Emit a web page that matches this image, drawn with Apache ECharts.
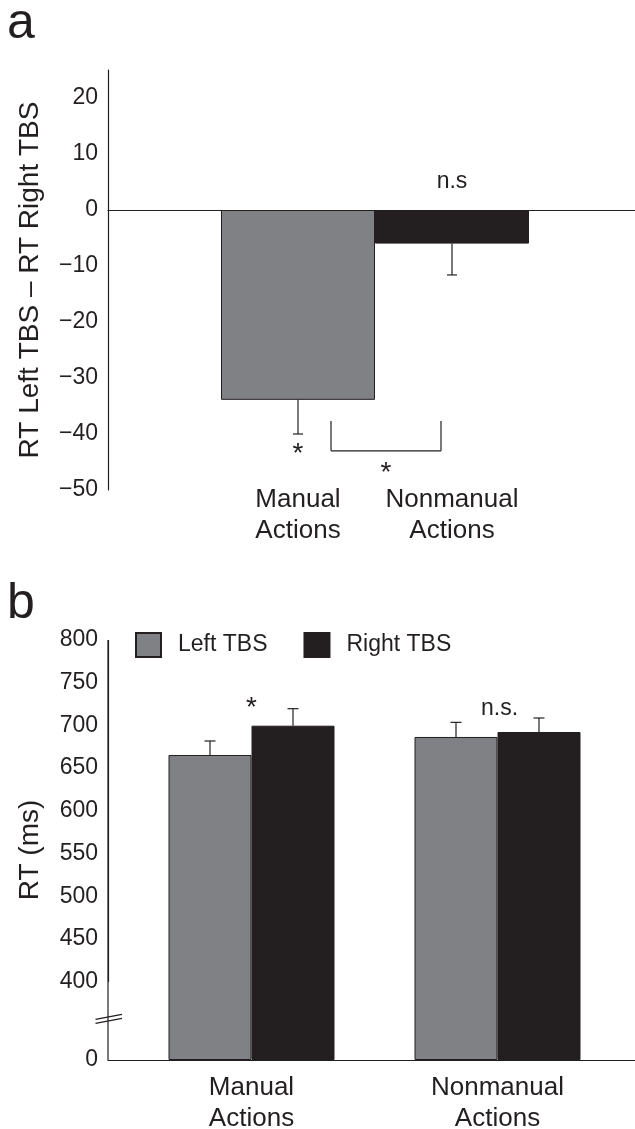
<!DOCTYPE html>
<html><head><meta charset="utf-8">
<script src="https://cdn.jsdelivr.net/npm/echarts@6/dist/echarts.min.js"></script>
<style>html,body{margin:0;padding:0;background:#fff}#c{width:635px;height:1129px}</style>
</head><body><div id="c"></div>
<script>
// ---------- data ----------
const categories = ['Manual\nActions', 'Nonmanual\nActions'];
// Panel a: RT Left TBS − RT Right TBS
const diffValues = [-33.9, -6.0];
const diffErrors = [6.1, 5.6];
// Panel b: RT (ms)
const seriesNames = ['Left TBS', 'Right TBS'];
const leftTBS = [665.4, 686.5];
const leftTBSErr = [16.4, 17.1];
const rightTBS = [699.7, 692.3];
const rightTBSErr = [19.9, 16.4];

// ---------- style ----------
const INK = '#231f20';
const GRAY = '#808184';
const FONT = '"Liberation Sans", Arial, Helvetica, sans-serif';
const BAR_W = 83;

const chart = echarts.init(document.getElementById('c'), null, {renderer: 'canvas'});

function errRender(capHalf, barW) {
  return function (params, api) {
    const i = api.value(0), v = api.value(1), e = api.value(2), side = api.value(3);
    const p0 = api.coord([i, v]);
    const p1 = api.coord([i, v + e]);
    const x = p0[0] + side * barW / 2;
    const st = {stroke: INK, lineWidth: 1.2};
    return {
      type: 'group',
      children: [
        {type: 'line', shape: {x1: x, y1: p0[1], x2: x, y2: p1[1]}, style: st},
        {type: 'line', shape: {x1: x - capHalf, y1: p1[1], x2: x + capHalf, y2: p1[1]}, style: st}
      ]
    };
  };
}

const breaksB = [{start: 0, end: 400, gap: 91.6}];
const breakAreaOff = {show: false, itemStyle: {color: 'rgba(0,0,0,0)', borderWidth: 0, opacity: 0}};

const option = {
  backgroundColor: '#fff',
  animation: false,
  textStyle: {fontFamily: FONT, color: INK},
  title: [
    {text: 'a', left: 7, top: -1, padding: 0, textStyle: {fontSize: 50, fontWeight: 'normal', color: INK, fontFamily: FONT}},
    {text: 'b', left: 7, top: 579, padding: 0, textStyle: {fontSize: 50, fontWeight: 'normal', color: INK, fontFamily: FONT}}
  ],
  legend: {
    data: seriesNames,
    left: 135, top: 632, padding: 0,
    itemWidth: 25, itemHeight: 24, itemGap: 36,
    icon: 'rect',
    textStyle: {fontSize: 23, color: INK, fontFamily: FONT, padding: [0, 0, 0, 12]}
  },
  grid: [
    {left: 108, right: 0, top: 70, height: 420, outerBoundsMode: 'none'},
    {left: 221, width: 308, top: 70, height: 420, outerBoundsMode: 'none'},
    {left: 108, right: 0, top: 640, height: 420, outerBoundsMode: 'none'},
    {left: 128.5, width: 492, top: 640, height: 420, outerBoundsMode: 'none'}
  ],
  xAxis: [
    {gridIndex: 0, type: 'value', min: 0, max: 1,
     axisLine: {show: true, onZero: true, lineStyle: {color: INK, width: 1.2}},
     axisTick: {show: false}, axisLabel: {show: false}, splitLine: {show: false}},
    {gridIndex: 1, type: 'category', data: categories, position: 'bottom',
     axisLine: {show: false, onZero: false}, axisTick: {show: false}, splitLine: {show: false},
     axisLabel: {fontSize: 26, lineHeight: 31, margin: -6, color: INK, fontFamily: FONT, interval: 0}},
    {gridIndex: 2, type: 'category', data: categories,
     axisLine: {show: true, onZero: false, lineStyle: {color: INK, width: 1.2}},
     axisTick: {show: false}, axisLabel: {show: false}, splitLine: {show: false}},
    {gridIndex: 3, type: 'category', data: categories, position: 'bottom',
     axisLine: {show: false, onZero: false}, axisTick: {show: false}, splitLine: {show: false},
     axisLabel: {fontSize: 26, lineHeight: 31, margin: 12, color: INK, fontFamily: FONT, interval: 0}}
  ],
  yAxis: [
    {gridIndex: 0, type: 'value', min: -50, max: 25, interval: 10,
     name: 'RT Left TBS \u2013 RT Right TBS', nameLocation: 'middle', nameGap: 64,
     nameTextStyle: {fontSize: 28, color: INK, fontFamily: FONT},
     axisLine: {show: true, onZero: false, lineStyle: {color: INK, width: 1.2}},
     axisTick: {show: false}, splitLine: {show: false},
     axisLabel: {fontSize: 23, margin: 10, color: INK, fontFamily: FONT, showMaxLabel: false,
       formatter: v => String(v).replace('-', '\u2212')}},
    {gridIndex: 1, type: 'value', min: -50, max: 25, interval: 10, show: false, splitLine: {show: false}},
    {gridIndex: 2, type: 'value', min: 0, max: 800, interval: 50,
     breaks: breaksB, breakArea: breakAreaOff,
     name: 'RT (ms)', nameLocation: 'middle', nameGap: 64,
     nameTextStyle: {fontSize: 28, color: INK, fontFamily: FONT},
     axisLine: {show: true, onZero: false, lineStyle: {color: INK, width: 1.2}},
     axisTick: {show: false}, splitLine: {show: false},
     axisLabel: {fontSize: 23, margin: 10, color: INK, fontFamily: FONT, hideOverlap: false,
       formatter: v => (v === 0 || (v >= 400 && v % 50 === 0)) ? String(v) : ''}},
    {gridIndex: 3, type: 'value', min: 0, max: 800, interval: 50, show: false,
     breaks: breaksB, breakArea: breakAreaOff, splitLine: {show: false}}
  ],
  series: [
    {type: 'bar', name: 'diff', xAxisIndex: 1, yAxisIndex: 1, barWidth: '100%',
     data: diffValues.map((v, i) => ({value: v, itemStyle: {color: i === 0 ? GRAY : INK}})),
     itemStyle: {borderColor: INK, borderWidth: 1}},
    {type: 'custom', name: 'diffErr', xAxisIndex: 1, yAxisIndex: 1, z: 5,
     renderItem: errRender(5, 0), encode: {x: 0, y: 1},
     data: diffValues.map((v, i) => [i, v, -diffErrors[i], 0])},
    {type: 'bar', name: seriesNames[0], xAxisIndex: 3, yAxisIndex: 3, barWidth: BAR_W, barGap: '0%',
     itemStyle: {color: GRAY, borderColor: INK, borderWidth: 1}, data: leftTBS},
    {type: 'bar', name: seriesNames[1], xAxisIndex: 3, yAxisIndex: 3, barWidth: BAR_W, barGap: '0%',
     itemStyle: {color: INK, borderColor: INK, borderWidth: 1}, data: rightTBS},
    {type: 'custom', name: 'bErr', xAxisIndex: 3, yAxisIndex: 3, z: 5,
     renderItem: errRender(5.5, BAR_W), encode: {x: 0, y: 1},
     data: [].concat(
       leftTBS.map((v, i) => [i, v, leftTBSErr[i], -1]),
       rightTBS.map((v, i) => [i, v, rightTBSErr[i], 1]))}
  ]
};
chart.setOption(option);

// ---------- annotations ----------
const pa = (c, v) => chart.convertToPixel({gridIndex: 1}, [c, v]);
const pb = (c, v) => chart.convertToPixel({gridIndex: 3}, [c, v]);
const txt = (x, y, s, size) => ({type: 'text', x: x, y: y, z: 10,
  style: {text: s, fontSize: size, fontFamily: FONT, fill: INK, textAlign: 'center', textVerticalAlign: 'middle'}});
const ln = (x1, y1, x2, y2) => ({type: 'line', z: 10, shape: {x1, y1, x2, y2}, style: {stroke: INK, lineWidth: 1.2}});

const m0 = pa(0, -42.3), n1 = pa(1, 5.05);
const bTop = pa(0, -37.7)[1], bBot = pa(0, -43.0)[1];
const bx1 = pa(0, 0)[0] + 33, bx2 = pa(1, 0)[0] - 11;
const s2 = pa(0, -45.8)[1];
const starB = pb(0, 727.8), nsB = pb(1, 721.2);
const yTop = chart.convertToPixel({yAxisIndex: 2}, 800);
const y0 = chart.convertToPixel({yAxisIndex: 2}, 0);
const y400 = chart.convertToPixel({yAxisIndex: 2}, 400);
const yb = (y0 + y400) / 2 - 2;
const axX = 108;
const STAR = 28, STAR_DY = 7;

chart.setOption({graphic: [
  // continuous y axis line across the break
  ln(axX, yTop, axX, y0),
  txt(m0[0], m0[1] + STAR_DY, '*', STAR),
  ln(bx1, bTop, bx1, bBot), ln(bx1, bBot, bx2, bBot), ln(bx2, bBot, bx2, bTop),
  txt((bx1 + bx2) / 2, s2 + STAR_DY, '*', STAR),
  txt(n1[0], n1[1], 'n.s', 23),
  txt(starB[0], starB[1] + STAR_DY, '*', STAR),
  txt(nsB[0] + 2, nsB[1] + 1, 'n.s.', 23),
  ln(axX - 12.5, yb + 2.5 - 2, axX + 14, yb - 2.5 - 2),
  ln(axX - 12.5, yb + 2.5 + 2, axX + 14, yb - 2.5 + 2)
]});
</script></body></html>
